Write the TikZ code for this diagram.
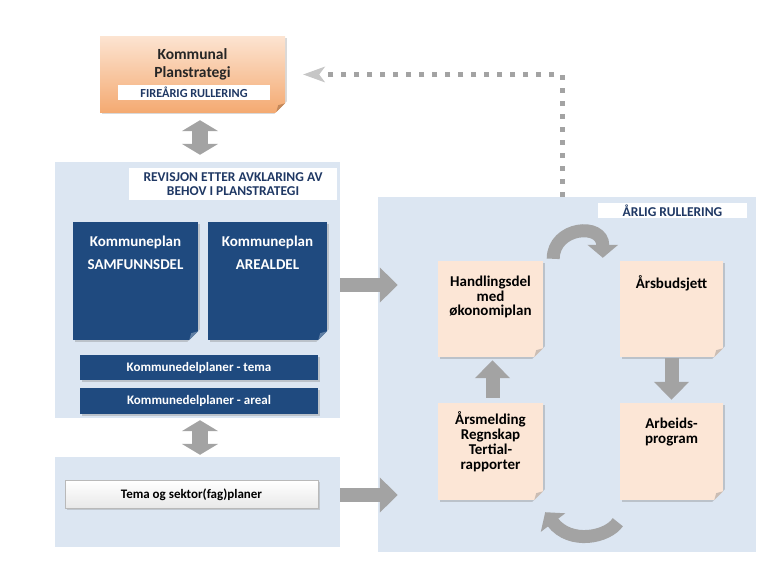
\documentclass[tikz,border=0pt]{standalone}
\usepackage{fontspec}
\setmainfont{Carlito}
\usetikzlibrary{arrows.meta, positioning, calc, shadows}

\definecolor{panelblue}{HTML}{DCE6F2}
\definecolor{darkblue}{HTML}{1F4A7F}
\definecolor{peach}{HTML}{FCE6D6}
\definecolor{arrowgray}{HTML}{A3A3A3}
\definecolor{navytext}{HTML}{1F3864}
\definecolor{orangelight}{HTML}{FCE3D0}
\definecolor{orangedeep}{HTML}{F4AA72}

% folded corner: node, flap colour, background colour
\newcommand{\dogear}[3]{%
  \fill[#3] ($(#1.south east)+(-12,3)$) -- ($(#1.south east)+(3,3)$) -- ($(#1.south east)+(3,-12)$) -- cycle;
  \fill[#2] ($(#1.south east)+(-9,0)$) -- ($(#1.south east)+(0,-9)$) -- ($(#1.south east)+(-7,-7)$) -- cycle;}

\begin{document}
\begin{tikzpicture}[x=1pt, y=-1pt, font=\bfseries,
  panel/.style={fill=panelblue, inner sep=0pt},
  banner/.style={fill=white, text=navytext, inner sep=0pt, font=\bfseries\fontsize{12.3}{14}\selectfont},
  plan/.style={fill=darkblue, inner sep=0pt, drop shadow={shadow xshift=1.5pt, shadow yshift=-1.5pt, opacity=.35}},
  note/.style={fill=peach, inner sep=0pt, drop shadow={shadow xshift=1.5pt, shadow yshift=-1.5pt, opacity=.35}},
  head/.style={anchor=north, align=center, inner sep=0pt, font=\bfseries\fontsize{15}{14.5}\selectfont},
  big/.style={draw=arrowgray, line width=14pt, -{Triangle[length=18pt, width=34pt]}},
  twoway/.style={draw=arrowgray, line width=16pt, {Triangle[length=11pt, width=36pt]}-{Triangle[length=11pt, width=36pt]}},
  curl/.style={draw=arrowgray, line width=13pt, -{Triangle[length=13pt, width=30pt]}},
  hint/.style={draw=arrowgray, line width=5pt, dash pattern=on 5pt off 8pt},
]
\useasboundingbox (0,0) rectangle (783,567);

% strategy box
\node[top color=orangelight, bottom color=orangedeep, minimum width=185pt, minimum height=75pt, inner sep=0pt,
      drop shadow={shadow xshift=1.5pt, shadow yshift=-1.5pt, opacity=.3}] (strat) at (192.5,74.5) {};
\dogear{strat}{orangedeep!80!black}{white}
\node[head, text=black!85, font=\bfseries\fontsize{15.5}{18}\selectfont] (stratT) at ($(strat.north)+(0,12)$) {Kommunal\\Planstrategi};
\node[banner, minimum width=152pt, minimum height=15pt] (fire) at (194,92.5) {FIREÅRIG RULLERING};

% left panels
\node[panel, minimum width=285pt, minimum height=256pt] (rev) at (197.5,290) {};
\node[banner, minimum width=208pt, minimum height=32pt, align=center,
      font=\bfseries\fontsize{13.5}{14}\selectfont] (revT) at (233,184) {REVISJON ETTER AVKLARING AV\\BEHOV I PLANSTRATEGI};
\node[panel, minimum width=285pt, minimum height=90pt] (sek) at (197.5,502) {};

\node[plan, minimum width=125pt, minimum height=118pt] (samf) at (135.5,281) {};
\dogear{samf}{darkblue!70!white}{panelblue}
\node[head, text=white, font=\bfseries\fontsize{15}{23}\selectfont] (samfT) at ($(samf.north)+(0,14)$) {Kommuneplan\\SAMFUNNSDEL};
\node[plan, minimum width=119pt, minimum height=118pt] (areal) at (267.5,281) {};
\dogear{areal}{darkblue!70!white}{panelblue}
\node[head, text=white, font=\bfseries\fontsize{15}{23}\selectfont] (arealT) at ($(areal.north)+(0,14)$) {Kommuneplan\\AREALDEL};

\node[plan, text=white, minimum width=238pt, minimum height=25pt, font=\bfseries\fontsize{13}{15}\selectfont] (dtema) at (199,367.5) {Kommunedelplaner - tema};
\node[plan, text=white, minimum width=238pt, minimum height=26pt, font=\bfseries\fontsize{13}{15}\selectfont] (dareal) at (199,401) {Kommunedelplaner - areal};

\node[top color=white, bottom color=gray!18, draw=gray!55, line width=.4pt, minimum width=253pt, minimum height=28pt,
      inner sep=0pt, font=\bfseries\fontsize{13}{15}\selectfont,
      drop shadow={shadow xshift=1.5pt, shadow yshift=-1.5pt, opacity=.3}] (fag) at (191.5,494.5) {Tema og sektor(fag)planer};

% right panel
\node[panel, minimum width=378pt, minimum height=355pt] (aar) at (567,374.5) {};
\node[banner, minimum width=149pt, minimum height=15pt, font=\bfseries\fontsize{13.5}{15}\selectfont] (aarT) at (672.5,210.5) {ÅRLIG RULLERING};

\node[note, minimum width=105pt, minimum height=96pt] (hand) at (490.5,309) {};
\dogear{hand}{peach!60!gray}{panelblue}
\node[head] (handT) at ($(hand.north)+(0,15)$) {Handlingsdel\\med\\økonomiplan};
\node[note, minimum width=103pt, minimum height=96pt] (bud) at (671.5,309) {};
\dogear{bud}{peach!60!gray}{panelblue}
\node[head] (budT) at ($(bud.north)+(0,15)$) {Årsbudsjett};
\node[note, minimum width=105pt, minimum height=97pt] (arsm) at (490.5,451.5) {};
\dogear{arsm}{peach!60!gray}{panelblue}
\node[head, font=\bfseries\fontsize{15}{15}\selectfont] (arsmT) at ($(arsm.north)+(0,9)$) {Årsmelding\\Regnskap\\Tertial-\\rapporter};
\node[note, minimum width=103pt, minimum height=97pt] (arb) at (671.5,451.5) {};
\dogear{arb}{peach!60!gray}{panelblue}
\node[head, font=\bfseries\fontsize{15}{15}\selectfont] (arbT) at ($(arb.north)+(0,15)$) {Arbeids-\\program};

% connectors
\draw[twoway] ($(strat.south)+(7.5,8)$) -- ($(rev.north)+(2.5,-7)$);
\draw[twoway] ($(rev.south)+(2.5,2)$) -- ($(sek.north)+(2.5,-2)$);
\draw[big] (rev.east |- 0,285) -- ($(aar.west |- 0,285)+(20,0)$);
\draw[big] (sek.east |- 0,495) -- ($(aar.west |- 0,495)+(20,0)$);
\draw[big] ($(arsm.north)+(2,-5)$) -- ($(hand.south)+(2,3)$);
\draw[big] ($(bud.south)+(0,1)$) -- ($(arb.north)+(0,-3)$);
\draw[curl] ($(hand.north east)+(10,-2)$) .. controls +(0,-32) and +(0,-36) .. ($(bud.north west)+(-17,-3)$);
\draw[curl] ($(arb.south west)+(-2,22)$) .. controls +(-10,15) and +(25,33) .. ($(arsm.south east)+(2,12)$);

\coordinate (turn) at (562,74.5);
\draw[hint] (aar.north -| turn) -- (turn) -- ($(strat.east)+(36,0)$);
\fill[gray!45] ($(strat.east)+(18,0)$) -- ($(strat.east)+(40,-8)$) -- ($(strat.east)+(34,0)$) -- ($(strat.east)+(40,8)$) -- cycle;
\end{tikzpicture}
\end{document}
